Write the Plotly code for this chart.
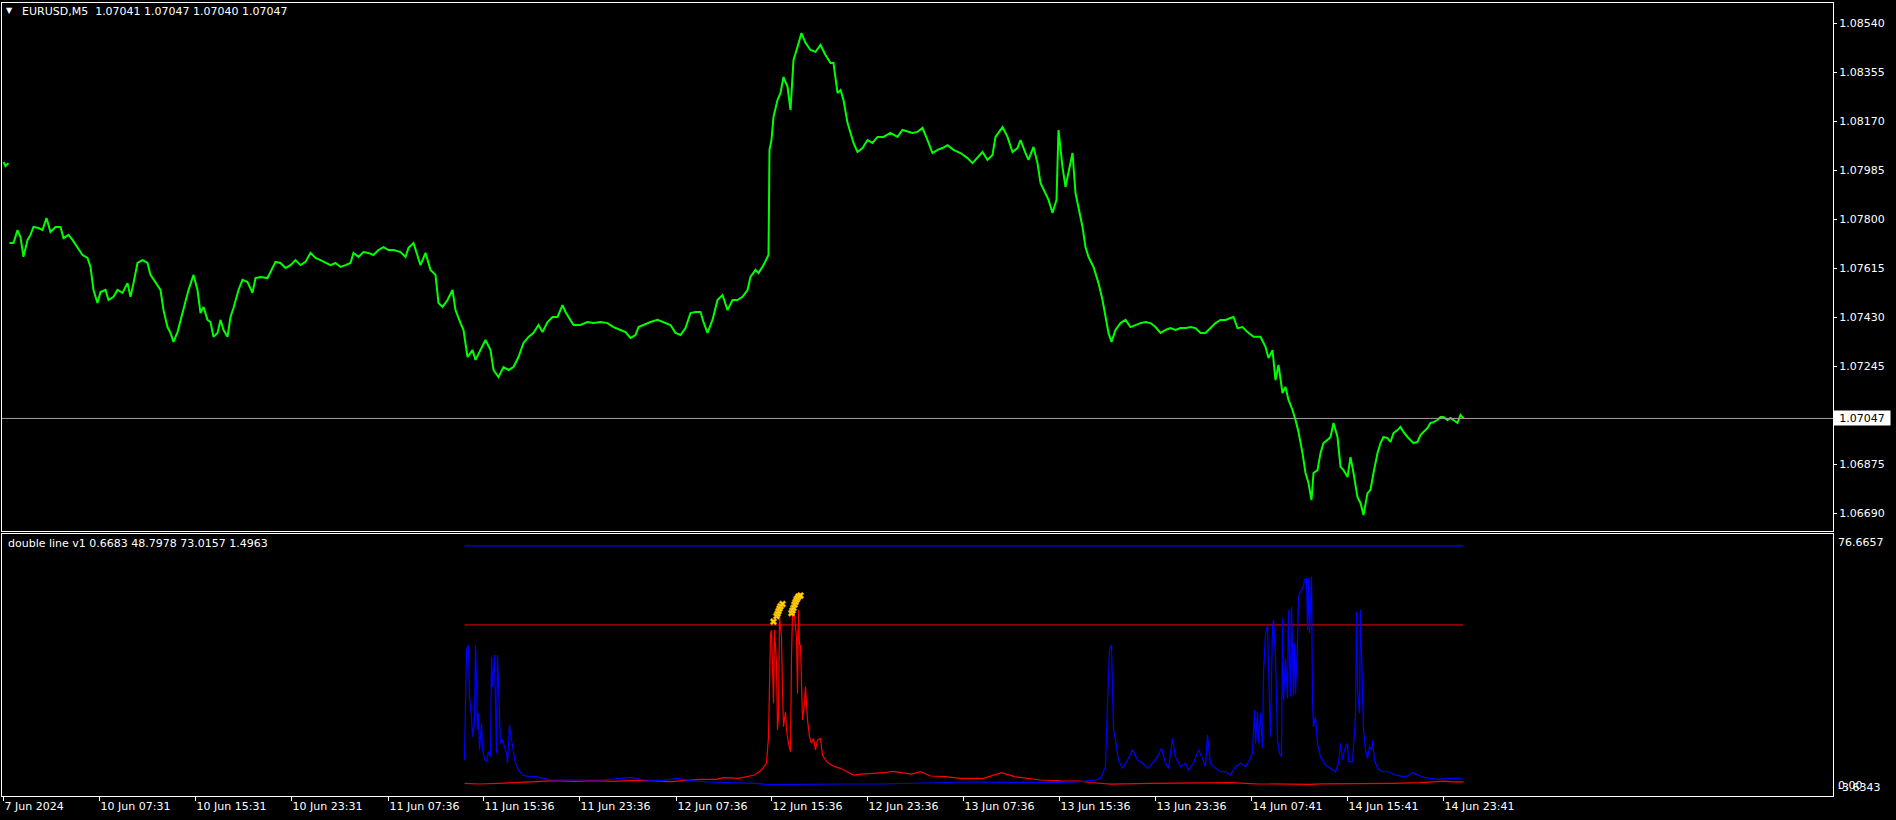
import plotly.graph_objects as go

# ---------------- DATA ----------------
symbol_title = "EURUSD,M5  1.07041 1.07047 1.07040 1.07047"
ind_title = "double line v1 0.6683 48.7978 73.0157 1.4963"
last_price = 1.07047

# bar index positions of the time labels (M5 bars)
time_tick_bars = [0, 96, 192, 288, 385, 480, 576, 673, 768, 864, 960, 1056, 1152, 1248, 1344, 1440]
time_tick_labels = ["7 Jun 2024", "10 Jun 07:31", "10 Jun 15:31", "10 Jun 23:31", "11 Jun 07:36",
                    "11 Jun 15:36", "11 Jun 23:36", "12 Jun 07:36", "12 Jun 15:36", "12 Jun 23:36",
                    "13 Jun 07:36", "13 Jun 15:36", "13 Jun 23:36", "14 Jun 07:41", "14 Jun 15:41",
                    "14 Jun 23:41"]
price_ticks = [1.08540, 1.08355, 1.08170, 1.07985, 1.07800, 1.07615, 1.07430, 1.07245, 1.06875, 1.06690]

# Friday close bars
fri_bar = [0, 2, 5]
fri_close = [1.08015, 1.08000, 1.08011]

price_bar = [6, 10, 14, 17, 20, 24, 27, 30, 35, 39, 43, 47, 52, 57, 60, 65, 69, 74, 79, 84, 87, 90, 94, 97,
             102, 105, 110, 114, 119, 124, 127, 130, 134, 139, 144, 147, 152, 157, 160, 164, 167, 170, 174,
             179, 182, 185, 190, 194, 197, 200, 204, 207, 210, 214, 217, 220, 224, 227, 230, 235, 239, 244,
             249, 252, 257, 264, 267, 272, 277, 282, 287, 292, 297, 302, 307, 312, 317, 322, 327, 332, 337,
             342, 347, 350, 355, 360, 365, 370, 375, 380, 385, 390, 397, 402, 405, 410, 414, 417, 422, 427,
             432, 435, 439, 444, 449, 452, 457, 460, 464, 469, 472, 477, 482, 487, 490, 495, 500, 505, 510,
             515, 520, 525, 530, 535, 539, 544, 549, 554, 559, 562, 567, 570, 577, 584, 590, 597, 604, 610,
             617, 622, 627, 632, 635, 640, 647, 654, 660, 667, 672, 677, 682, 687, 692, 697, 700, 704, 709,
             714, 719, 724, 729, 734, 739, 744, 747, 752, 755, 760, 765, 766, 768, 770, 774, 777, 780, 784,
             787, 790, 794, 798, 802, 807, 812, 817, 822, 827, 830, 834, 837, 840, 844, 847, 850, 854, 859,
             864, 869, 874, 880, 887, 894, 899, 904, 909, 914, 919, 924, 929, 934, 939, 944, 950, 957, 964,
             969, 974, 979, 984, 989, 992, 999, 1004, 1009, 1014, 1017, 1022, 1025, 1030, 1034, 1037, 1042,
             1045, 1049, 1053, 1055, 1059, 1062, 1065, 1069, 1072, 1075, 1079, 1082, 1085, 1090, 1095, 1099,
             1102, 1105, 1108, 1112, 1117, 1122, 1127, 1132, 1137, 1142, 1147, 1152, 1157, 1162, 1167, 1172,
             1177, 1182, 1187, 1192, 1197, 1202, 1207, 1212, 1217, 1222, 1227, 1230, 1234, 1239, 1244, 1250,
             1257, 1262, 1265, 1269, 1272, 1275, 1279, 1282, 1285, 1289, 1292, 1295, 1299, 1302, 1305, 1308,
             1310, 1314, 1317, 1320, 1324, 1327, 1330, 1334, 1337, 1340, 1344, 1347, 1350, 1354, 1357, 1360,
             1364, 1367, 1370, 1374, 1377, 1380, 1384, 1387, 1390, 1394, 1397, 1400, 1404, 1407, 1410, 1414,
             1417, 1420, 1424, 1427, 1430, 1434, 1437, 1440, 1444, 1447, 1450, 1454, 1457, 1460]
price_close = [1.07709, 1.07709, 1.07758, 1.07732, 1.07657, 1.07721, 1.07740, 1.07770, 1.07766, 1.07758,
               1.07804, 1.07751, 1.07770, 1.07770, 1.07728, 1.07740, 1.07721, 1.07694, 1.07664, 1.07653,
               1.07619, 1.07532, 1.07483, 1.07524, 1.07532, 1.07494, 1.07506, 1.07532, 1.07521, 1.07558,
               1.07506, 1.07558, 1.07634, 1.07645, 1.07634, 1.07589, 1.07562, 1.07532, 1.07456, 1.07392,
               1.07370, 1.07336, 1.07373, 1.07445, 1.07483, 1.07532, 1.07589, 1.07532, 1.07445, 1.07468,
               1.07419, 1.07411, 1.07355, 1.07370, 1.07419, 1.07381, 1.07355, 1.07430, 1.07464, 1.07532,
               1.07570, 1.07562, 1.07521, 1.07577, 1.07581, 1.07577, 1.07600, 1.07638, 1.07634, 1.07615,
               1.07626, 1.07645, 1.07626, 1.07638, 1.07672, 1.07653, 1.07645, 1.07634, 1.07626, 1.07634,
               1.07619, 1.07626, 1.07634, 1.07672, 1.07657, 1.07675, 1.07672, 1.07664, 1.07683, 1.07694,
               1.07683, 1.07683, 1.07675, 1.07657, 1.07691, 1.07709, 1.07657, 1.07626, 1.07672, 1.07608,
               1.07589, 1.07483, 1.07468, 1.07494, 1.07532, 1.07456, 1.07407, 1.07381, 1.07279, 1.07305,
               1.07268, 1.07305, 1.07343, 1.07305, 1.07230, 1.07203, 1.07241, 1.07230, 1.07241, 1.07279,
               1.07332, 1.07355, 1.07370, 1.07400, 1.07373, 1.07411, 1.07430, 1.07430, 1.07475, 1.07449,
               1.07419, 1.07400, 1.07400, 1.07411, 1.07407, 1.07411, 1.07407, 1.07392, 1.07381, 1.07373,
               1.07351, 1.07362, 1.07392, 1.07400, 1.07411, 1.07419, 1.07411, 1.07400, 1.07370, 1.07362,
               1.07388, 1.07445, 1.07449, 1.07449, 1.07411, 1.07370, 1.07419, 1.07494, 1.07513, 1.07456,
               1.07494, 1.07494, 1.07506, 1.07532, 1.07581, 1.07608, 1.07596, 1.07626, 1.07664, 1.08061,
               1.08098, 1.08185, 1.08249, 1.08276, 1.08336, 1.08299, 1.08212, 1.08400, 1.08450, 1.08502,
               1.08465, 1.08438, 1.08431, 1.08457, 1.08419, 1.08389, 1.08389, 1.08276, 1.08287, 1.08249,
               1.08163, 1.08125, 1.08087, 1.08053, 1.08068, 1.08098, 1.08087, 1.08110, 1.08110, 1.08125,
               1.08110, 1.08136, 1.08129, 1.08125, 1.08129, 1.08144, 1.08098, 1.08049, 1.08061, 1.08068,
               1.08079, 1.08061, 1.08049, 1.08030, 1.08011, 1.08034, 1.08053, 1.08023, 1.08042, 1.08110,
               1.08147, 1.08110, 1.08053, 1.08068, 1.08098, 1.08049, 1.08023, 1.08072, 1.08011, 1.07936,
               1.07898, 1.07872, 1.07823, 1.07872, 1.08136, 1.07996, 1.07921, 1.07974, 1.08049, 1.07898,
               1.07845, 1.07770, 1.07694, 1.07657, 1.07619, 1.07558, 1.07494, 1.07430, 1.07370, 1.07336,
               1.07381, 1.07407, 1.07419, 1.07392, 1.07400, 1.07407, 1.07411, 1.07407, 1.07392, 1.07370,
               1.07381, 1.07388, 1.07381, 1.07388, 1.07388, 1.07392, 1.07388, 1.07370, 1.07370, 1.07388,
               1.07407, 1.07419, 1.07419, 1.07426, 1.07430, 1.07388, 1.07392, 1.07373, 1.07355, 1.07355,
               1.07317, 1.07275, 1.07305, 1.07192, 1.07249, 1.07143, 1.07166, 1.07117, 1.07079, 1.07041,
               1.06996, 1.06916, 1.06841, 1.06803, 1.06739, 1.06841, 1.06852, 1.06916, 1.06954, 1.06966,
               1.06977, 1.07030, 1.06977, 1.06864, 1.06852, 1.06826, 1.06901, 1.06841, 1.06750, 1.06728,
               1.06682, 1.06765, 1.06777, 1.06841, 1.06916, 1.06954, 1.06977, 1.06973, 1.06958, 1.06992,
               1.07003, 1.07015, 1.06996, 1.06977, 1.06966, 1.06954, 1.06958, 1.06984, 1.06996, 1.07011,
               1.07030, 1.07033, 1.07041, 1.07052, 1.07052, 1.07041, 1.07049, 1.07041, 1.07030, 1.07060,
               1.07047]

# indicator "double line v1"
ind_start_bar = 461
ind_end_bar = 1460
upper_level = 73.0157
lower_level = 48.7978

blue_bar = [461, 463, 465, 466, 468, 469, 471, 472, 473, 474, 475, 476, 478, 479, 481, 483, 485, 487, 488,
            489, 491, 492, 493, 494, 496, 497, 499, 501, 503, 504, 506, 508, 510, 512, 515, 519, 525, 533,
            540, 548, 563, 579, 598, 617, 628, 640, 659, 674, 686, 705, 728, 751, 766, 789, 804, 839, 877,
            923, 965, 1000, 1037, 1057, 1077, 1092, 1097, 1102, 1104, 1106, 1108, 1109, 1110, 1112, 1115,
            1119, 1124, 1129, 1134, 1139, 1144, 1149, 1154, 1158, 1162, 1165, 1169, 1172, 1177, 1182, 1185,
            1190, 1195, 1199, 1202, 1204, 1207, 1212, 1217, 1222, 1227, 1232, 1237, 1242, 1246, 1249, 1250,
            1251, 1252, 1254, 1255, 1257, 1259, 1260, 1262, 1264, 1265, 1267, 1269, 1270, 1272, 1274, 1276,
            1278, 1279, 1280, 1282, 1284, 1285, 1287, 1288, 1290, 1291, 1292, 1294, 1295, 1297, 1300, 1301,
            1303, 1304, 1305, 1306, 1308, 1309, 1310, 1312, 1314, 1317, 1322, 1327, 1332, 1335, 1337, 1339,
            1341, 1344, 1345, 1349, 1351, 1352, 1353, 1354, 1356, 1357, 1358, 1360, 1362, 1364, 1366, 1368,
            1369, 1371, 1374, 1379, 1385, 1392, 1399, 1404, 1409, 1414, 1420, 1427, 1434, 1444, 1454, 1460]
blue_val = [7.4, 41.1, 42.65, 26.8, 20.7, 14.55, 18.6, 42.65, 31.9, 16.6, 21.7, 10.5, 18.6, 10.5, 7.9, 6.9,
            9.95, 8.4, 39.07, 29.9, 39.6, 16.6, 9.44, 39.6, 16.6, 12.5, 13.5, 11.5, 9.44, 6.38, 18.1, 13.5,
            10.5, 6.38, 4.34, 2.8, 2.29, 2.29, 1.78, 1.27, 1.27, 1.27, 1.27, 1.78, 2.09, 1.27, 1.07, 1.78,
            1.07, 0.66, 0.45, 0.25, -0.16, -0.06, -0.16, 0.05, 0.05, 0.25, 0.66, 0.55, 0.55, 0.5, 0.8, 1.3,
            1.78, 5.36, 24.8, 41.1, 42.65, 30.9, 16.6, 13.5, 7.4, 4.85, 7.4, 10.5, 7.4, 6.38, 4.85, 6.38,
            8.4, 11.0, 6.38, 4.85, 14.0, 8.4, 5.36, 6.38, 4.34, 6.38, 10.5, 7.9, 5.36, 15.05, 6.38, 4.85,
            3.8, 3.8, 2.8, 5.36, 6.38, 5.36, 7.4, 9.44, 19.1, 22.7, 12.5, 22.2, 12.5, 21.7, 11.0, 33.96,
            46.2, 48.8, 36.0, 14.55, 48.3, 50.3, 39.07, 13.5, 9.44, 8.4, 50.8, 25.8, 38.56, 26.3, 53.4,
            26.8, 54.4, 27.3, 43.2, 27.8, 43.2, 57.5, 59.0, 60.5, 62.6, 63.1, 47.2, 63.1, 46.2, 63.6, 25.8,
            17.6, 20.7, 12.5, 8.4, 5.87, 4.85, 3.8, 6.38, 12.5, 7.4, 10.5, 12.5, 6.9, 6.9, 14.55, 20.7,
            52.9, 28.8, 21.7, 53.4, 40.1, 16.6, 10.5, 7.9, 11.5, 10.5, 13.5, 7.4, 4.85, 3.8, 3.8, 2.8,
            2.29, 2.5, 3.5, 2.8, 2.09, 1.78, 1.47, 1.78, 1.78, 1.4963]

red_bar = [461, 475, 494, 514, 533, 552, 571, 590, 609, 628, 647, 667, 682, 697, 713, 720, 735, 743, 751,
           758, 763, 765, 766, 767, 768, 770, 771, 773, 774, 775, 776, 778, 779, 780, 782, 783, 785, 787,
           788, 789, 791, 793, 794, 795, 796, 797, 799, 801, 802, 804, 806, 808, 810, 812, 814, 817, 819,
           822, 825, 831, 837, 843, 850, 858, 869, 881, 889, 900, 908, 917, 927, 942, 957, 980, 998, 1011,
           1026, 1037, 1057, 1077, 1087, 1097, 1107, 1147, 1197, 1227, 1252, 1277, 1307, 1317, 1357, 1387,
           1417, 1434, 1442, 1447, 1460]
red_val = [0.25, 0.05, 0.25, 0.45, 0.76, 1.07, 0.87, 1.07, 0.87, 1.07, 1.07, 0.76, 1.07, 1.47, 1.47, 2.0,
           1.78, 2.29, 2.8, 4.34, 6.38, 14.55, 35.0, 45.7, 47.2, 24.8, 47.2, 37.0, 16.6, 20.7, 51.3, 45.2,
           28.8, 17.6, 22.2, 16.6, 12.5, 9.95, 39.07, 52.4, 51.8, 45.2, 27.8, 53.4, 42.65, 42.65, 19.7,
           24.8, 29.9, 19.7, 14.55, 12.5, 14.0, 10.5, 13.5, 14.0, 8.93, 7.4, 6.38, 5.36, 4.85, 3.8, 2.8,
           3.1, 3.3, 3.5, 3.9, 3.5, 3.1, 3.8, 2.5, 2.29, 1.78, 1.78, 3.5, 2.29, 1.78, 1.27, 1.0, 0.9, 0.5,
           0.3, 0.0, 0.25, 0.25, 0.45, 0.1, 0.0, -0.06, 0.1, 0.1, 0.25, 0.45, 0.66, 0.9, 0.7, 0.6683]

signal_bar = [770, 773, 774, 775, 776, 777, 779, 788, 789, 790, 791, 792, 793, 794, 795, 797]
signal_val = [49.8, 51.5, 52.2, 53.0, 53.8, 54.5, 55.2, 52.4, 53.2, 54.0, 55.0, 55.8, 56.5, 57.0, 57.5, 57.8]

ind_max = 76.6657
ind_min = -3.6343

# ---------------- FIGURE ----------------
FONT = "DejaVu Sans"
W, H = 1896, 820
ML, MR, MT, MB = 2, 63, 3, 24
plot_h = H - MT - MB
main_bottom_px = 531
ind_top_px = 534
main_dom0 = (H - MB - main_bottom_px) / plot_h
ind_dom1 = (H - MB - ind_top_px) / plot_h

# main y range from pixel geometry of the price scale (49 px per 0.00185)
px_per_price = 49 / 0.00185
y_top = 1.08540 + (23 - MT) / px_per_price
y_bot = 1.08540 - (main_bottom_px - 23) / px_per_price

fig = go.Figure()

fig.add_trace(go.Scatter(
    x=fri_bar + [None] + price_bar, y=fri_close + [None] + price_close,
    mode="lines", line=dict(color="#00FF00", width=2),
    xaxis="x2", yaxis="y", hoverinfo="skip", connectgaps=False))

fig.add_trace(go.Scatter(x=[ind_start_bar, ind_end_bar], y=[upper_level, upper_level], mode="lines",
                         line=dict(color="#0000FF", width=1.2), xaxis="x", yaxis="y2", hoverinfo="skip"))
fig.add_trace(go.Scatter(x=[ind_start_bar, ind_end_bar], y=[lower_level, lower_level], mode="lines",
                         line=dict(color="#FF0000", width=1), xaxis="x", yaxis="y2", hoverinfo="skip"))
fig.add_trace(go.Scatter(x=red_bar, y=red_val, mode="lines", line=dict(color="#FF0000", width=1.2),
                         xaxis="x", yaxis="y2", hoverinfo="skip"))
fig.add_trace(go.Scatter(x=blue_bar, y=blue_val, mode="lines", line=dict(color="#0000FF", width=1.2),
                         xaxis="x", yaxis="y2", hoverinfo="skip"))
fig.add_trace(go.Scatter(x=signal_bar, y=signal_val, mode="markers",
                         marker=dict(symbol="x", size=6, color="#FFD700",
                                     line=dict(color="#E09000", width=0.6)),
                         xaxis="x", yaxis="y2", hoverinfo="skip"))

xr = [-1.5, W - ML - MR - 1.5]
fig.update_layout(
    width=W, height=H, margin=dict(l=ML, r=MR, t=MT, b=MB),
    paper_bgcolor="#000000", plot_bgcolor="#000000", showlegend=False, hovermode=False,
    font=dict(family=FONT, size=11, color="#FFFFFF"),
    xaxis=dict(domain=[0, 1], anchor="y2", range=xr, showgrid=False, zeroline=False,
               tickmode="array", tickvals=time_tick_bars, ticktext=time_tick_labels,
               ticks="outside", ticklen=4, tickcolor="#FFFFFF", tickwidth=1,
               ticklabelposition="outside right",
               tickfont=dict(family=FONT, size=11, color="#FFFFFF"),
               showline=True, linecolor="#FFFFFF", linewidth=1, mirror=True),
    xaxis2=dict(domain=[0, 1], anchor="y", matches="x", range=xr, showgrid=False, zeroline=False,
                showticklabels=False, ticks="", showline=True, linecolor="#FFFFFF", linewidth=1,
                mirror=True),
    yaxis=dict(domain=[main_dom0, 1], anchor="x2", side="right", range=[y_bot, y_top],
               showgrid=False, zeroline=False, tickmode="array", tickvals=price_ticks,
               ticktext=[f"{v:.5f}" for v in price_ticks], ticks="outside", ticklen=3,
               tickcolor="#FFFFFF", tickfont=dict(family=FONT, size=11, color="#FFFFFF"),
               showline=True, linecolor="#FFFFFF", linewidth=1, mirror=True),
    yaxis2=dict(domain=[0, ind_dom1], anchor="x", side="right", range=[ind_min, ind_max],
                showgrid=False, zeroline=False, showticklabels=False, ticks="",
                showline=True, linecolor="#FFFFFF", linewidth=1, mirror=True),
)

# current price line and label
fig.add_shape(type="line", xref="paper", x0=0, x1=1, yref="y", y0=last_price, y1=last_price,
              line=dict(color="#A0A0A0", width=1))
fig.add_annotation(xref="paper", x=1, xanchor="left", xshift=0, yref="y", y=last_price, yanchor="middle",
                   text=f"{last_price:.5f}", showarrow=False, bgcolor="#FFFFFF", width=56, height=14,
                   borderpad=0, align="center", font=dict(family=FONT, size=11, color="#000000"))

# titles
fig.add_annotation(xref="paper", x=0, xanchor="left", xshift=2, yref="paper", y=1, yanchor="top",
                   yshift=-1, text="▼", showarrow=False, font=dict(family=FONT, size=8, color="#FFFFFF"))
fig.add_annotation(xref="paper", x=0, xanchor="left", xshift=18, yref="paper", y=1, yanchor="top",
                   yshift=0, text=symbol_title, showarrow=False,
                   font=dict(family=FONT, size=11, color="#FFFFFF"))
fig.add_annotation(xref="paper", x=0, xanchor="left", xshift=4, yref="paper", y=ind_dom1,
                   yanchor="top", yshift=-1, text=ind_title, showarrow=False,
                   font=dict(family=FONT, size=11, color="#FFFFFF"))

# indicator scale labels (the reference draws "0.00" and the minimum on top of each other)
for txt, val, anc, ys in [(f"{ind_max:.4f}", ind_max, "top", 0), ("0.00", 0, "middle", -1),
                          (f"{ind_min:.4f}", ind_min, "bottom", 0)]:
    fig.add_annotation(xref="paper", x=1, xanchor="left", xshift=3, yref="y2", y=val, yanchor=anc,
                       yshift=ys, text=txt, showarrow=False,
                       font=dict(family=FONT, size=11, color="#FFFFFF"))

fig.write_html("out.html", config={"displayModeBar": False},
               post_script="document.body.style.margin='0';document.body.style.background='#000';")
